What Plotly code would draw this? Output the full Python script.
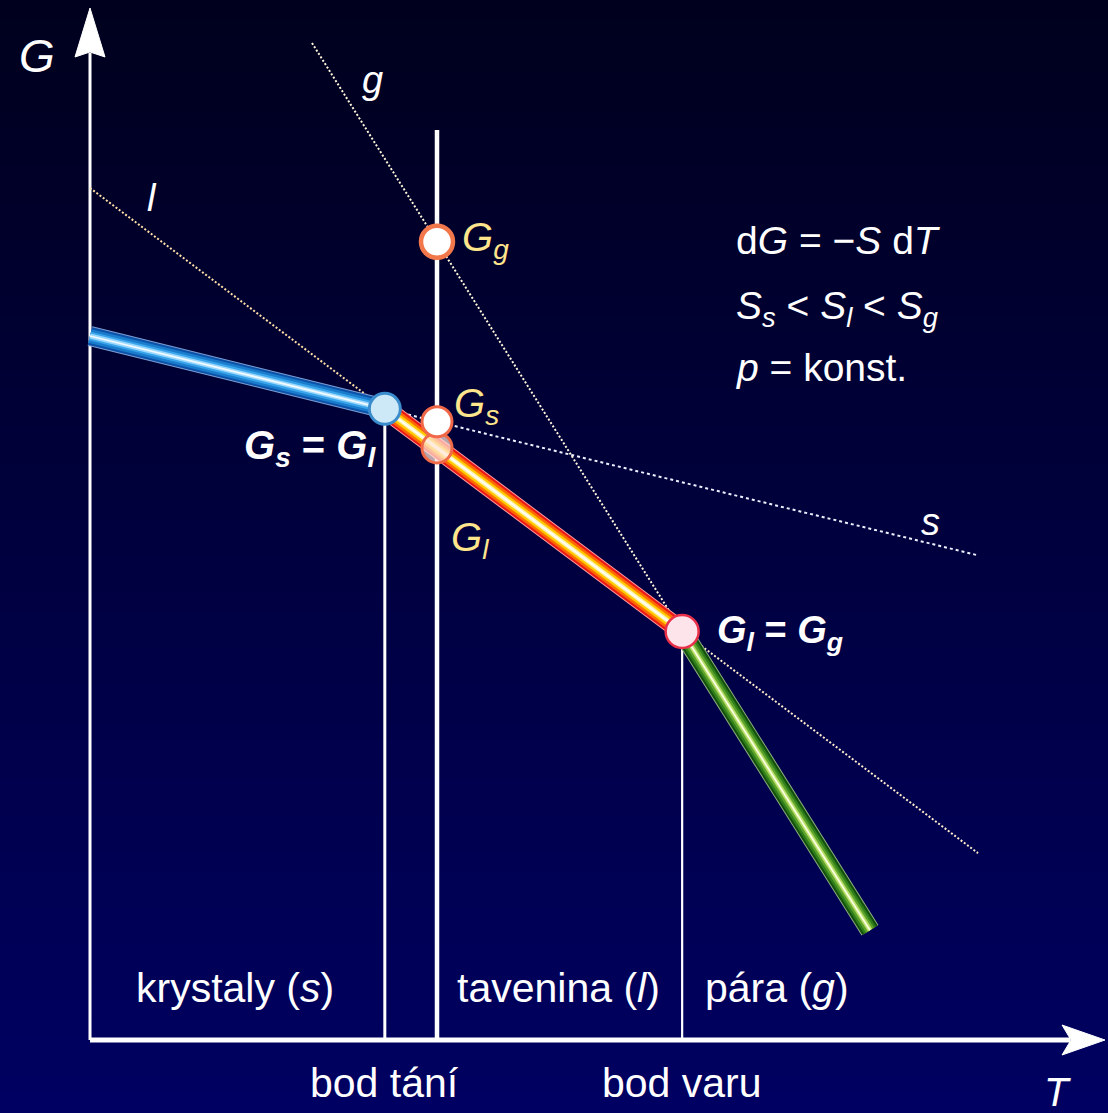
import plotly.graph_objects as go

# Gibbs energy of each phase, linear in temperature: G(T) = G0 - S*T
phases = ["s", "l", "g"]
G0 = [7.04, 8.52, 13.5]
S = [0.247, 0.749, 1.59]
T_start = [0.0, 0.0, 2.22]
T_end = [8.88, 8.88, 7.8]

T_cut = 3.47        # isotherm where the three G values are compared
G_cut_top = 9.10
T_axis_end = 10.15
G_axis_end = 10.32

region_labels = ["krystaly (<i>s</i>)", "tavenina (<i>l</i>)", "pára (<i>g</i>)"]
region_x = [1.45, 4.68, 6.87]
point_labels = ["bod tání", "bod varu"]


def G(i, T):
    return G0[i] - S[i] * T


iS, iL, iG = 0, 1, 2
T_melt = (G0[iL] - G0[iS]) / (S[iL] - S[iS])
T_boil = (G0[iG] - G0[iL]) / (S[iG] - S[iL])

FONT = "Liberation Sans, Arial, sans-serif"
fig = go.Figure()

# background gradient
n_bands = 60
shapes = []
for k in range(n_bands):
    f = k / (n_bands - 1)
    b = int(30 + (98 - 30) * f)
    shapes.append(dict(type="rect", xref="paper", yref="paper", layer="below",
                       x0=0, x1=1, y0=1 - (k + 1) / n_bands, y1=1 - k / n_bands + 0.001,
                       line=dict(width=0), fillcolor=f"rgb(0,0,{b})"))


def seg(T0, T1, i, color, width, dash="solid"):
    fig.add_trace(go.Scatter(x=[T0, T1], y=[G(i, T0), G(i, T1)], mode="lines",
                             line=dict(color=color, width=width, dash=dash),
                             hoverinfo="skip"))


def vline(T, g0, g1, width):
    fig.add_trace(go.Scatter(x=[T, T], y=[g0, g1], mode="lines",
                             line=dict(color="white", width=width), hoverinfo="skip"))


# axes
vline(0, 0, G_axis_end - 0.45, 3)
fig.add_trace(go.Scatter(x=[0, T_axis_end - 0.35], y=[0, 0], mode="lines",
                         line=dict(color="white", width=5), hoverinfo="skip"))
fig.add_trace(go.Scatter(x=[0, -0.15, 0, 0.15, 0],
                         y=[G_axis_end, G_axis_end - 0.49, G_axis_end - 0.44, G_axis_end - 0.49, G_axis_end],
                         mode="lines", fill="toself", fillcolor="white",
                         line=dict(color="white", width=1), hoverinfo="skip"))
fig.add_trace(go.Scatter(x=[T_axis_end, T_axis_end - 0.43, T_axis_end - 0.34, T_axis_end - 0.43, T_axis_end],
                         y=[0, 0.15, 0, -0.15, 0],
                         mode="lines", fill="toself", fillcolor="white",
                         line=dict(color="white", width=1), hoverinfo="skip"))

# thin dotted continuations of the phase lines
seg(0, T_melt, iL, "#ffe0a8", 2, "2px,2px")
seg(T_boil, T_end[iL], iL, "#ffeccc", 2, "2px,2px")
seg(T_start[iG], T_boil, iG, "#fff6dc", 2, "2px,2px")
seg(T_melt, T_end[iS], iS, "#eef0ff", 2, "3px,3px")

# vertical lines at the transition temperatures and the isotherm
vline(T_melt, 0, G(iS, T_melt), 3)
vline(T_cut, 0, G_cut_top, 4.5)
vline(T_boil, 0, G(iL, T_boil), 2.2)

# stable branches drawn as glowing bands
blue = [(20, "#7a9ed4"), (18, "#0c52a8"), (14, "#1a7ccc"), (9, "#3aa4ea"), (5, "#9ad8ff"), (1.8, "#f0faff")]
orange = [(20, "#ff9a9a"), (18, "#e81818"), (14, "#ff6a00"), (9, "#ffc800"), (4.5, "#fff4b0"), (1.6, "#ffffff")]
green = [(20, "#90b080"), (18, "#124e0c"), (14, "#2e7d1a"), (9.5, "#5ea42c"), (5, "#b8dc68"), (1.8, "#f8ffe0")]
for w, c in blue:
    seg(0, T_melt, iS, c, w)
for w, c in orange:
    seg(T_melt, T_boil, iL, c, w)
for w, c in green:
    seg(T_boil, T_end[iG], iG, c, w)


def dot(T, g, fill, edge, size, lw):
    fig.add_trace(go.Scatter(x=[T], y=[g], mode="markers",
                             marker=dict(size=size, color=fill, line=dict(color=edge, width=lw)),
                             hoverinfo="skip"))


dot(T_melt, G(iS, T_melt), "#cde8f6", "#3a8ccc", 31, 3)
dot(T_cut, G(iG, T_cut), "#ffffff", "#f2784c", 32, 4.5)
dot(T_cut, G(iL, T_cut), "rgba(255,228,218,0.72)", "#f06a48", 30, 3)
dot(T_cut, G(iS, T_cut), "#ffffff", "#f06848", 30, 3)
dot(T_boil, G(iL, T_boil), "#fde4ea", "#e8304a", 33, 2.5)

ann = []


def text(x, y, s, size, color="white", xanchor="center", yanchor="middle"):
    ann.append(dict(x=x, y=y, text=s, showarrow=False, xanchor=xanchor, yanchor=yanchor,
                    font=dict(family=FONT, size=size, color=color)))


YEL = "#ffe68c"
text(-0.53, 9.84, "<i>G</i>", 46)
text(9.67, -0.52, "<i>T</i>", 40)
text(2.82, 9.6, "<i>g</i>", 38)
text(0.62, 8.42, "<i>l</i>", 38)
text(8.4, 5.18, "<i>s</i>", 38)

text(6.44, 8.0, "d<i>G</i> = −<i>S</i> d<i>T</i>", 39, xanchor="left")
text(6.44, 7.32, "<i>S</i><sub><i>s</i></sub> &lt; <i>S</i><sub><i>l</i></sub> &lt; <i>S</i><sub><i>g</i></sub>", 39, xanchor="left")
text(6.44, 6.73, "<i>p</i> = konst.", 39, xanchor="left")

text(3.7, 8.0, "<i>G</i><sub><i>g</i></sub>", 40, YEL, xanchor="left")
text(3.62, 6.34, "<i>G</i><sub><i>s</i></sub>", 40, YEL, xanchor="left")
text(3.59, 5.0, "<i>G</i><sub><i>l</i></sub>", 40, YEL, xanchor="left")
text(2.88, 5.92, "<b><i>G</i><sub><i>s</i></sub> = <i>G</i><sub><i>l</i></sub></b>", 40, xanchor="right")
text(6.25, 4.07, "<b><i>G</i><sub><i>l</i></sub> = <i>G</i><sub><i>g</i></sub></b>", 38, xanchor="left")

for lbl, x in zip(region_labels, region_x):
    text(x, 0.52, lbl, 41)
for lbl, x in zip(point_labels, [T_melt, T_boil]):
    text(x, -0.43, lbl, 41)

fig.update_layout(
    width=1108, height=1113,
    margin=dict(l=0, r=0, t=0, b=0),
    paper_bgcolor="#000030", plot_bgcolor="rgba(0,0,0,0)",
    showlegend=False, shapes=shapes, annotations=ann,
    xaxis=dict(range=[-0.90, 10.18], visible=False, fixedrange=True),
    yaxis=dict(range=[-0.73, 10.40], visible=False, fixedrange=True),
)

fig.write_html("out.html")
